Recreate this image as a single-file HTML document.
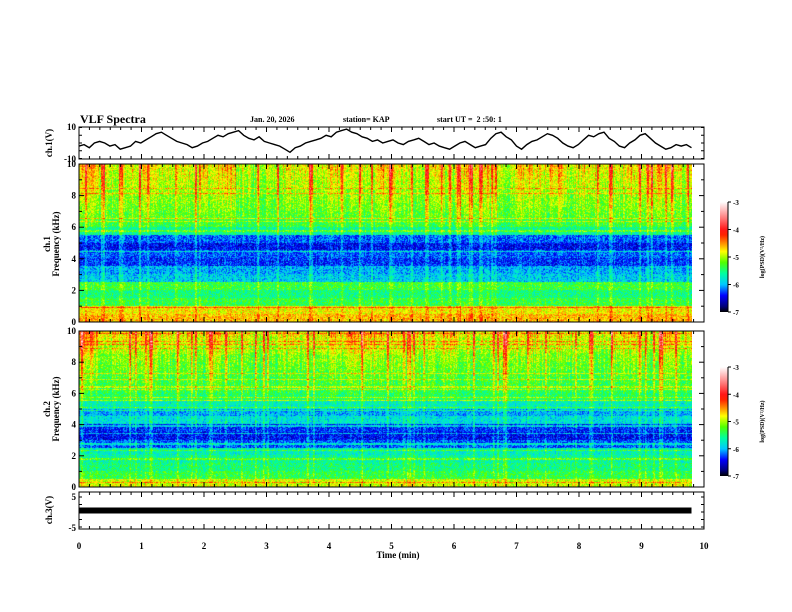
<!DOCTYPE html>
<html><head><meta charset="utf-8"><style>
body{margin:0;background:#fff;}
#wrap{position:relative;width:792px;height:612px;overflow:hidden;font-family:"Liberation Serif",serif;font-weight:bold;color:#000;}
.t{position:absolute;white-space:nowrap;font-size:9px;}
canvas{position:absolute;}
</style></head><body>
<div id="wrap">
<div class="t" style="left:80px;top:112px;font-size:12px;">VLF Spectra</div>
<div class="t" style="left:250px;top:115px;font-size:8px;">Jan. 20, 2026</div>
<div class="t" style="left:343px;top:115px;font-size:8px;">station= KAP</div>
<div class="t" style="left:437px;top:115px;font-size:8px;">start UT =&nbsp; 2 :50: 1</div>
<canvas id="spec1" width="613" height="158" style="left:79px;top:164px;"></canvas>
<canvas id="spec2" width="613" height="156" style="left:79px;top:331px;"></canvas>
<svg id="svg" width="792" height="612" style="position:absolute;left:0;top:0;"></svg>
</div>
<script>
// ---- data ----
const timeTicks=[0,1,2,3,4,5,6,7,8,9,10];
const freqTicks=[0,2,4,6,8,10];
const cbTicks=[-3,-4,-5,-6,-7];
const ch1Wave=[-2,-1,-3,0,1,0,-2,-1,-4,-3,-2,1,0,2,4,6,7,5,3,1,0,-1,-3,-2,0,1,3,5,4,6,7,8,5,3,2,4,1,0,-1,-2,-4,-6,-3,-2,0,1,2,3,5,4,7,8,9,7,6,4,3,1,2,0,1,2,0,-1,1,2,3,1,-1,0,-2,-3,-4,-2,0,1,-1,-3,-2,-1,3,6,7,4,2,-2,-4,-1,1,2,4,6,5,3,0,-2,-3,-1,2,5,4,6,7,3,1,-2,-3,0,2,5,6,3,0,-2,-4,-3,-1,-2,-1,-3];
const ch1Bands=[-4.6,-4.75,-5.35,-5.5,-5.3,-5.9,-6.0,-6.3,-6.2,-6.4,-6.2,-5.6,-5.35,-5.25,-5.2,-5.15,-5.1,-5.05,-5.0,-4.95];
const ch2Bands=[-4.9,-5.35,-5.5,-5.6,-5.7,-6.2,-6.4,-6.3,-5.8,-6.0,-5.7,-5.45,-5.4,-5.35,-5.3,-5.25,-5.2,-5.1,-5.0,-4.9];
const ch1Activity=[0.5,0.2,0.1,0.3,0.4,0.2,0.1,0.2,0.3,0.4,0.1,0.0,0.1,0.2,0.3,0.2,0.4,0.3,0.2,0.5,0.2,0.1,0.3,0.2,0.4,0.3,0.2,0.1,0.4,0.3,0.5,0.2,0.3,0.1,0.2,0.4,0.3,0.5,0.2,0.3];
const ch2Activity=[0.6,0.3,0.2,0.3,0.4,0.2,0.2,0.1,0.3,0.2,0.1,0.0,0.1,0.2,0.1,0.2,0.3,0.4,0.5,0.3,0.2,0.1,0.2,0.3,0.2,0.1,0.2,0.4,0.3,0.2,0.3,0.1,0.2,0.1,0.3,0.2,0.1,0.4,0.2,0.3];
const ch3Level=0.5;
// ---- geometry ----
const X0=79,X1=704;
const xs=t=>X0+(X1-X0)*t/10;
const svg=document.getElementById('svg');
const NS='http://www.w3.org/2000/svg';
function mk(tag,at,name){const e=document.createElementNS(NS,tag);for(const k in at)e.setAttribute(k,at[k]);


svg.appendChild(e);return e;}
function txt(x,y,s,name,anchor,size,rot){const e=mk('text',{x:x,y:y,'font-family':'Liberation Serif, serif','font-weight':'bold','font-size':size||9,'text-anchor':anchor||'end'},name);
if(rot)e.setAttribute('transform','rotate(-90 '+x+' '+y+')');e.textContent=s;return e;}
const panels=[{n:'ch1-wave',y0:127,y1:159},{n:'ch1-spec',y0:164,y1:322},{n:'ch2-spec',y0:331,y1:487},{n:'ch3-wave',y0:492,y1:529}];
panels.forEach(p=>{
 mk('rect',{x:X0,y:p.y0,width:X1-X0,height:p.y1-p.y0,fill:'none',stroke:'#000','stroke-width':1},p.n+'-frame');
 for(let k=0;k<=60;k++){const x=xs(k/6);const L=(k%6==0)?5:3;
  mk('line',{x1:x,x2:x,y1:p.y0,y2:p.y0+L,stroke:'#000'},p.n+'-top-tick');
  mk('line',{x1:x,x2:x,y1:p.y1,y2:p.y1-L,stroke:'#000'},p.n+'-bottom-tick');}
});
function specAxis(p,label){
 const ys=f=>p.y1-(p.y1-p.y0)*f/10;
 for(let f=0;f<=10;f+=1){const L=f%2==0?5:3;
  mk('line',{x1:X0,x2:X0+L,y1:ys(f),y2:ys(f),stroke:'#000'},label+'-y-tick');
  mk('line',{x1:X1,x2:X1-L,y1:ys(f),y2:ys(f),stroke:'#000'},label+'-y-tick-right');}
 freqTicks.forEach(f=>txt(X0-3,ys(f)+3,String(f),label+'-y-tick-label'));
}
specAxis(panels[1],'ch1');specAxis(panels[2],'ch2');
txt(50,244,'ch.1',"ch1-y-title-channel",'middle',9,true);
txt(59,244,'Frequency (kHz)',"ch1-y-title",'middle',9,true);
txt(50,409,'ch.2',"ch2-y-title-channel",'middle',9,true);
txt(59,409,'Frequency (kHz)',"ch2-y-title",'middle',9,true);
{const ys=v=>143-v*15.5/10;
 txt(X0-3,130,'10','ch1-wave-y-label');txt(X0-3,162,'-10','ch1-wave-y-label');
 txt(52,143,'ch.1(V)','ch1-wave-y-title','middle',9,true);
 for(const v of [-10,-5,0,5,10]){mk('line',{x1:X0,x2:X0+3,y1:ys(v),y2:ys(v),stroke:'#000'},'ch1-wave-tick');mk('line',{x1:X1,x2:X1-3,y1:ys(v),y2:ys(v),stroke:'#000'},'ch1-wave-tick-right');}
 let d='';const tmax=9.8;ch1Wave.forEach((v,i)=>{const x=xs(tmax*i/(ch1Wave.length-1));d+=(i?'L':'M')+x.toFixed(1)+' '+ys(v).toFixed(1);});
 mk('path',{d:d,fill:'none',stroke:'#000','stroke-width':1.4},'ch1-waveform-line');}
{const ys=v=>512-v*3;
 txt(X0-3,500,'5','ch3-y-label');txt(X0-3,531,'-5','ch3-y-label');
 txt(52,510,'ch.3(V)','ch3-y-title','middle',9,true);
 for(const v of [-5,-2.5,0,2.5,5]){mk('line',{x1:X0,x2:X0+3,y1:ys(v),y2:ys(v),stroke:'#000'},'ch3-tick');mk('line',{x1:X1,x2:X1-3,y1:ys(v),y2:ys(v),stroke:'#000'},'ch3-tick-right');}
 mk('rect',{x:X0,y:ys(ch3Level)-3,width:xs(9.8)-X0,height:6,fill:'#000'},'ch3-signal-band');}
timeTicks.forEach(t=>txt(xs(t),549,String(t),'time-tick-label','middle'));
txt(398,558,'Time  (min)','x-axis-title','middle');
const cstops=[[-7,0,0,0],[-6.8,0,0,120],[-6.4,0,0,255],[-6.0,0,200,255],[-5.6,0,255,160],[-5.2,80,255,0],[-4.8,255,255,0],[-4.5,255,140,0],[-4.1,255,0,0],[-3.6,255,120,120],[-3,255,255,255]];
function cmap(v){if(v<=-7)return [0,0,0];if(v>=-3)return[255,255,255];
 for(let i=1;i<cstops.length;i++){if(v<=cstops[i][0]){const a=cstops[i-1],b=cstops[i],u=(v-a[0])/(b[0]-a[0]);return [a[1]+(b[1]-a[1])*u,a[2]+(b[2]-a[2])*u,a[3]+(b[3]-a[3])*u];}}}
function colorbar(y0,y1,name){
 const g=mk('linearGradient',{id:name+'g',x1:0,y1:1,x2:0,y2:0},name+'-gradient');
 for(let k=0;k<=20;k++){const v=-7+4*k/20;const c=cmap(v);const s=document.createElementNS(NS,'stop');s.setAttribute('offset',k/20);s.setAttribute('stop-color','rgb('+c.map(Math.round).join(',')+')');g.appendChild(s);}
 mk('rect',{x:720,y:y0,width:8,height:y1-y0,fill:'url(#'+name+'g)'},name);
 const ys=v=>y1-(y1-y0)*(v+7)/4;
 cbTicks.forEach(v=>{mk('line',{x1:728,x2:731,y1:ys(v),y2:ys(v),stroke:'#000'},name+'-tick');txt(733,ys(v)+3,String(v),name+'-tick-label','start',7);});
 mk('line',{x1:728,x2:728,y1:y0,y2:y1,stroke:'#000'},name+'-axis');
 txt(764,(y0+y1)/2,'log(PSD)(V²/Hz)',name+'-title','middle',6,true);
}
colorbar(202,312,'ch1-colorbar');colorbar(367,476,'ch2-colorbar');
function h(a,b){let n=(a*374761393+b*668265263)|0;n=(n^(n>>>13))*1274126177|0;return ((n^(n>>>16))>>>0)/4294967296;}
function draw(id,bands,act,seed){
 const c=document.getElementById(id),ctx=c.getContext('2d'),W=c.width,H=c.height;const im=ctx.createImageData(W,H);
 for(let x=0;x<W;x++){const t=x/W*9.8;const ai=Math.min(act.length-1,Math.floor(t/10*act.length));
  const r=h(x,seed);const streak=(h(x>>1,seed+7)>0.85?0.8:0)+(r>0.85?-0.5:0);
  const colN=(r-0.5)*0.7+streak;
  for(let y=0;y<H;y++){const f=(H-1-y)/H*10;const bi=Math.min(bands.length-1,Math.floor(f/0.5));
   let v=bands[bi];const hf=Math.max(0,(f-5)/5);
   v+=act[ai]*hf*1.0+colN*(0.3+0.7*hf)+(h(x*3+y,seed+y)-0.5)*0.6;
   const rowL=h(y,seed+99);if(rowL>0.92)v+=0.4;
   const cc=cmap(v);const i=(y*W+x)*4;im.data[i]=cc[0];im.data[i+1]=cc[1];im.data[i+2]=cc[2];im.data[i+3]=255;}}
 ctx.putImageData(im,0,0);}
draw('spec1',ch1Bands,ch1Activity,11);draw('spec2',ch2Bands,ch2Activity,23);
</script>
</body></html>
